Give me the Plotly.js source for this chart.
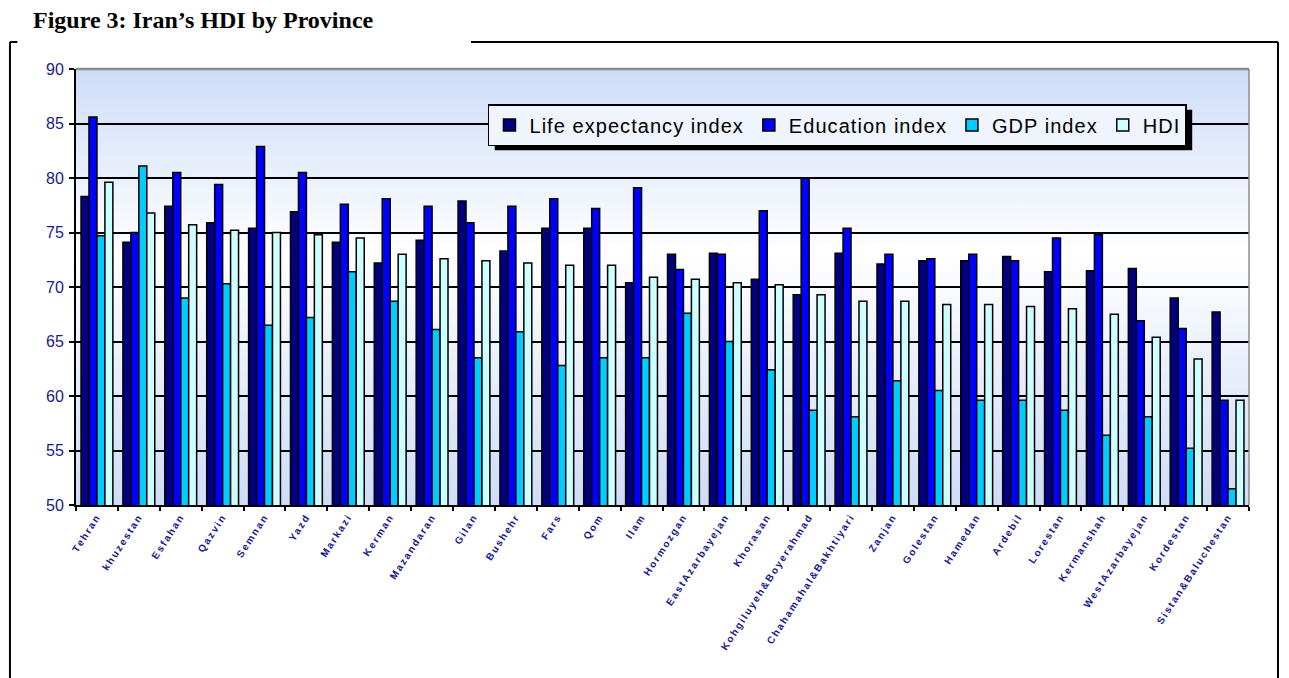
<!DOCTYPE html>
<html>
<head>
<meta charset="utf-8">
<script src="https://cdn.plot.ly/plotly-3.0.1.min.js"></script>
<style>
  body { margin: 0; background: #ffffff; }
  #chart { width: 1289px; height: 678px; }
  /* the original export spreads its letters apart */
  .legendtext { letter-spacing: 1.05px; }
  .xtick text { letter-spacing: 1.8px; font-weight: bold !important; }
</style>
</head>
<body>
<div id="chart"></div>
<script>
let provinces = ['Tehran', 'khuzestan', 'Esfahan', 'Qazvin', 'Semnan', 'Yazd', 'Markazi', 'Kerman',
    'Mazandaran', 'Gilan', 'Bushehr', 'Fars', 'Qom', 'Ilam', 'Hormozgan', 'EastAzarbayejan',
    'Khorasan', 'Kohgiluyeh&Boyerahmad', 'Chahamahal&Bakhtiyari', 'Zanjan', 'Golestan', 'Hamedan',
    'Ardebil', 'Lorestan', 'Kermanshah', 'WestAzarbayejan', 'Kordestan', 'Sistan&Baluchestan'];

let lifeExpectancy = [78.3, 74.1, 77.4, 75.9, 75.4, 76.9, 74.1, 72.2, 74.3, 77.9, 73.3, 75.4, 75.4, 70.4,
    73.0, 73.1, 70.7, 69.3, 73.1, 72.1, 72.4, 72.4, 72.8, 71.4, 71.5, 71.7, 69.0, 67.7];
let education = [85.6, 75.0, 80.5, 79.4, 82.9, 80.5, 77.6, 78.1, 77.4, 75.9, 77.4, 78.1, 77.2, 79.1,
    71.6, 73.0, 77.0, 80.0, 75.4, 73.0, 72.6, 73.0, 72.4, 74.5, 74.8, 66.9, 66.2, 59.6];
let gdp = [74.7, 81.1, 69.0, 70.3, 66.5, 67.2, 71.4, 68.7, 66.1, 63.5, 65.9, 62.8, 63.5, 63.5,
    67.6, 65.0, 62.4, 58.7, 58.1, 61.4, 60.5, 59.6, 59.6, 58.7, 56.4, 58.1, 55.2, 51.5];
let hdi = [79.6, 76.8, 75.7, 75.2, 75.0, 74.8, 74.5, 73.0, 72.6, 72.4, 72.2, 72.0, 72.0, 70.9,
    70.7, 70.4, 70.2, 69.3, 68.7, 68.7, 68.4, 68.4, 68.2, 68.0, 67.5, 65.4, 63.4, 59.6];

let seriesNames = ['Life expectancy index', 'Education index', 'GDP index', 'HDI'];
let seriesColors = ['#000080', '#0000ff', '#00ccff', '#ccffff'];
let seriesValues = [lifeExpectancy, education, gdp, hdi];

let graph = document.getElementById('chart');

let data = seriesValues.map(function(values, i) {
    return {
        type: 'bar',
        name: seriesNames[i],
        x: provinces,
        y: values,
        marker: {color: seriesColors[i], line: {color: '#000000', width: 1.5}}
    };
});

// background gradient of the plot area
let gradient = 'data:image/svg+xml;utf8,' + encodeURIComponent(
    '<svg xmlns="http://www.w3.org/2000/svg" width="100" height="100" preserveAspectRatio="none">' +
    '<defs><linearGradient id="g" x1="0" y1="0" x2="0" y2="1">' +
    '<stop offset="0" stop-color="#cddcf8"/><stop offset="0.42" stop-color="#ffffff"/>' +
    '<stop offset="1" stop-color="#cedcf6"/></linearGradient></defs>' +
    '<rect width="100" height="100" fill="url(#g)"/></svg>');

let frame = {color: '#000000', width: 2};
let border = {color: '#8c8c8c', width: 2.5};
let shapes = [
    {type: 'line', xref: 'paper', yref: 'paper', x0: 0, x1: 1, y0: 1, y1: 1, line: border},
    {type: 'line', xref: 'paper', yref: 'paper', x0: 1, x1: 1, y0: 0, y1: 1, line: {color: '#8c8c8c', width: 1.5}},
    {type: 'line', xref: 'paper', yref: 'paper', x0: -0.0563, x1: -0.0563, y0: 1.062, y1: -0.5, line: frame},
    {type: 'line', xref: 'paper', yref: 'paper', x0: -0.0563, x1: -0.05, y0: 1.062, y1: 1.062, line: frame},
    {type: 'line', xref: 'paper', yref: 'paper', x0: 0.3367, x1: 1.0247, y0: 1.062, y1: 1.062, line: frame},
    {type: 'line', xref: 'paper', yref: 'paper', x0: 1.0247, x1: 1.0247, y0: 1.062, y1: -0.5, line: frame}
];

let layout = {
    width: 1289,
    height: 678,
    margin: {l: 76, r: 40, t: 69, b: 173},
    paper_bgcolor: '#ffffff',
    plot_bgcolor: '#ffffff',
    font: {family: 'Arial, Liberation Sans, sans-serif', color: '#000000'},
    title: {
        text: 'Figure 3: Iran’s HDI by Province',
        font: {family: 'Liberation Serif, Times New Roman, serif', size: 24, weight: 'bold', color: '#000000'},
        xref: 'container', yref: 'container',
        x: 0.0256, xanchor: 'left',
        y: 0.9705, yanchor: 'middle'
    },
    barmode: 'group',
    bargap: 0.24,
    bargroupgap: 0,
    showlegend: true,
    legend: {
        orientation: 'h',
        x: 0.3512, xanchor: 'left',
        y: 0.9197, yanchor: 'top',
        bgcolor: '#f0f4fd',
        bordercolor: '#000000',
        borderwidth: 1.5,
        font: {size: 20, color: '#000000'},
        itemwidth: 30,
        tracegroupgap: 0
    },
    xaxis: {
        type: 'category',
        showgrid: false,
        showline: true,
        linecolor: '#000000',
        linewidth: 2,
        ticks: 'outside',
        tickson: 'boundaries',
        ticklen: 4,
        tickwidth: 1.5,
        tickcolor: '#000000',
        tickangle: -57,
        tickfont: {size: 10, weight: 'bold', color: '#1a1a8c'}
    },
    yaxis: {
        range: [50, 90],
        dtick: 5,
        showgrid: true,
        gridcolor: '#000000',
        gridwidth: 1.8,
        showline: true,
        linecolor: '#000000',
        linewidth: 2,
        ticks: 'outside',
        ticklen: 5,
        tickwidth: 1.5,
        tickcolor: '#000000',
        ticklabelstandoff: 2,
        tickfont: {size: 16, color: '#1a1a8c'},
        zeroline: false
    },
    images: [{
        source: gradient,
        xref: 'paper', yref: 'paper',
        x: 0, y: 1, sizex: 1, sizey: 1,
        xanchor: 'left', yanchor: 'top',
        sizing: 'stretch',
        layer: 'below'
    }],
    shapes: shapes
};

Plotly.newPlot(graph, data, layout, {displayModeBar: false}).then(function(gd) {
    // drop shadow behind the legend box
    let bg = gd.querySelector('.legend .bg');
    if (!bg) return;
    let box = bg.getBoundingClientRect();
    let area = gd.getBoundingClientRect();
    let size = gd._fullLayout._size;
    let toX = function(px) { return (px - area.left - size.l) / size.w; };
    let toY = function(py) { return 1 - (py - area.top - size.t) / size.h; };
    let shadow = {
        type: 'rect', xref: 'paper', yref: 'paper', layer: 'above',
        x0: toX(box.left + 6), x1: toX(box.right + 6),
        y0: toY(box.top + 5), y1: toY(box.bottom + 5),
        fillcolor: '#000000', line: {width: 0}
    };
    Plotly.relayout(gd, {shapes: shapes.concat([shadow])});
});
</script>
</body>
</html>
